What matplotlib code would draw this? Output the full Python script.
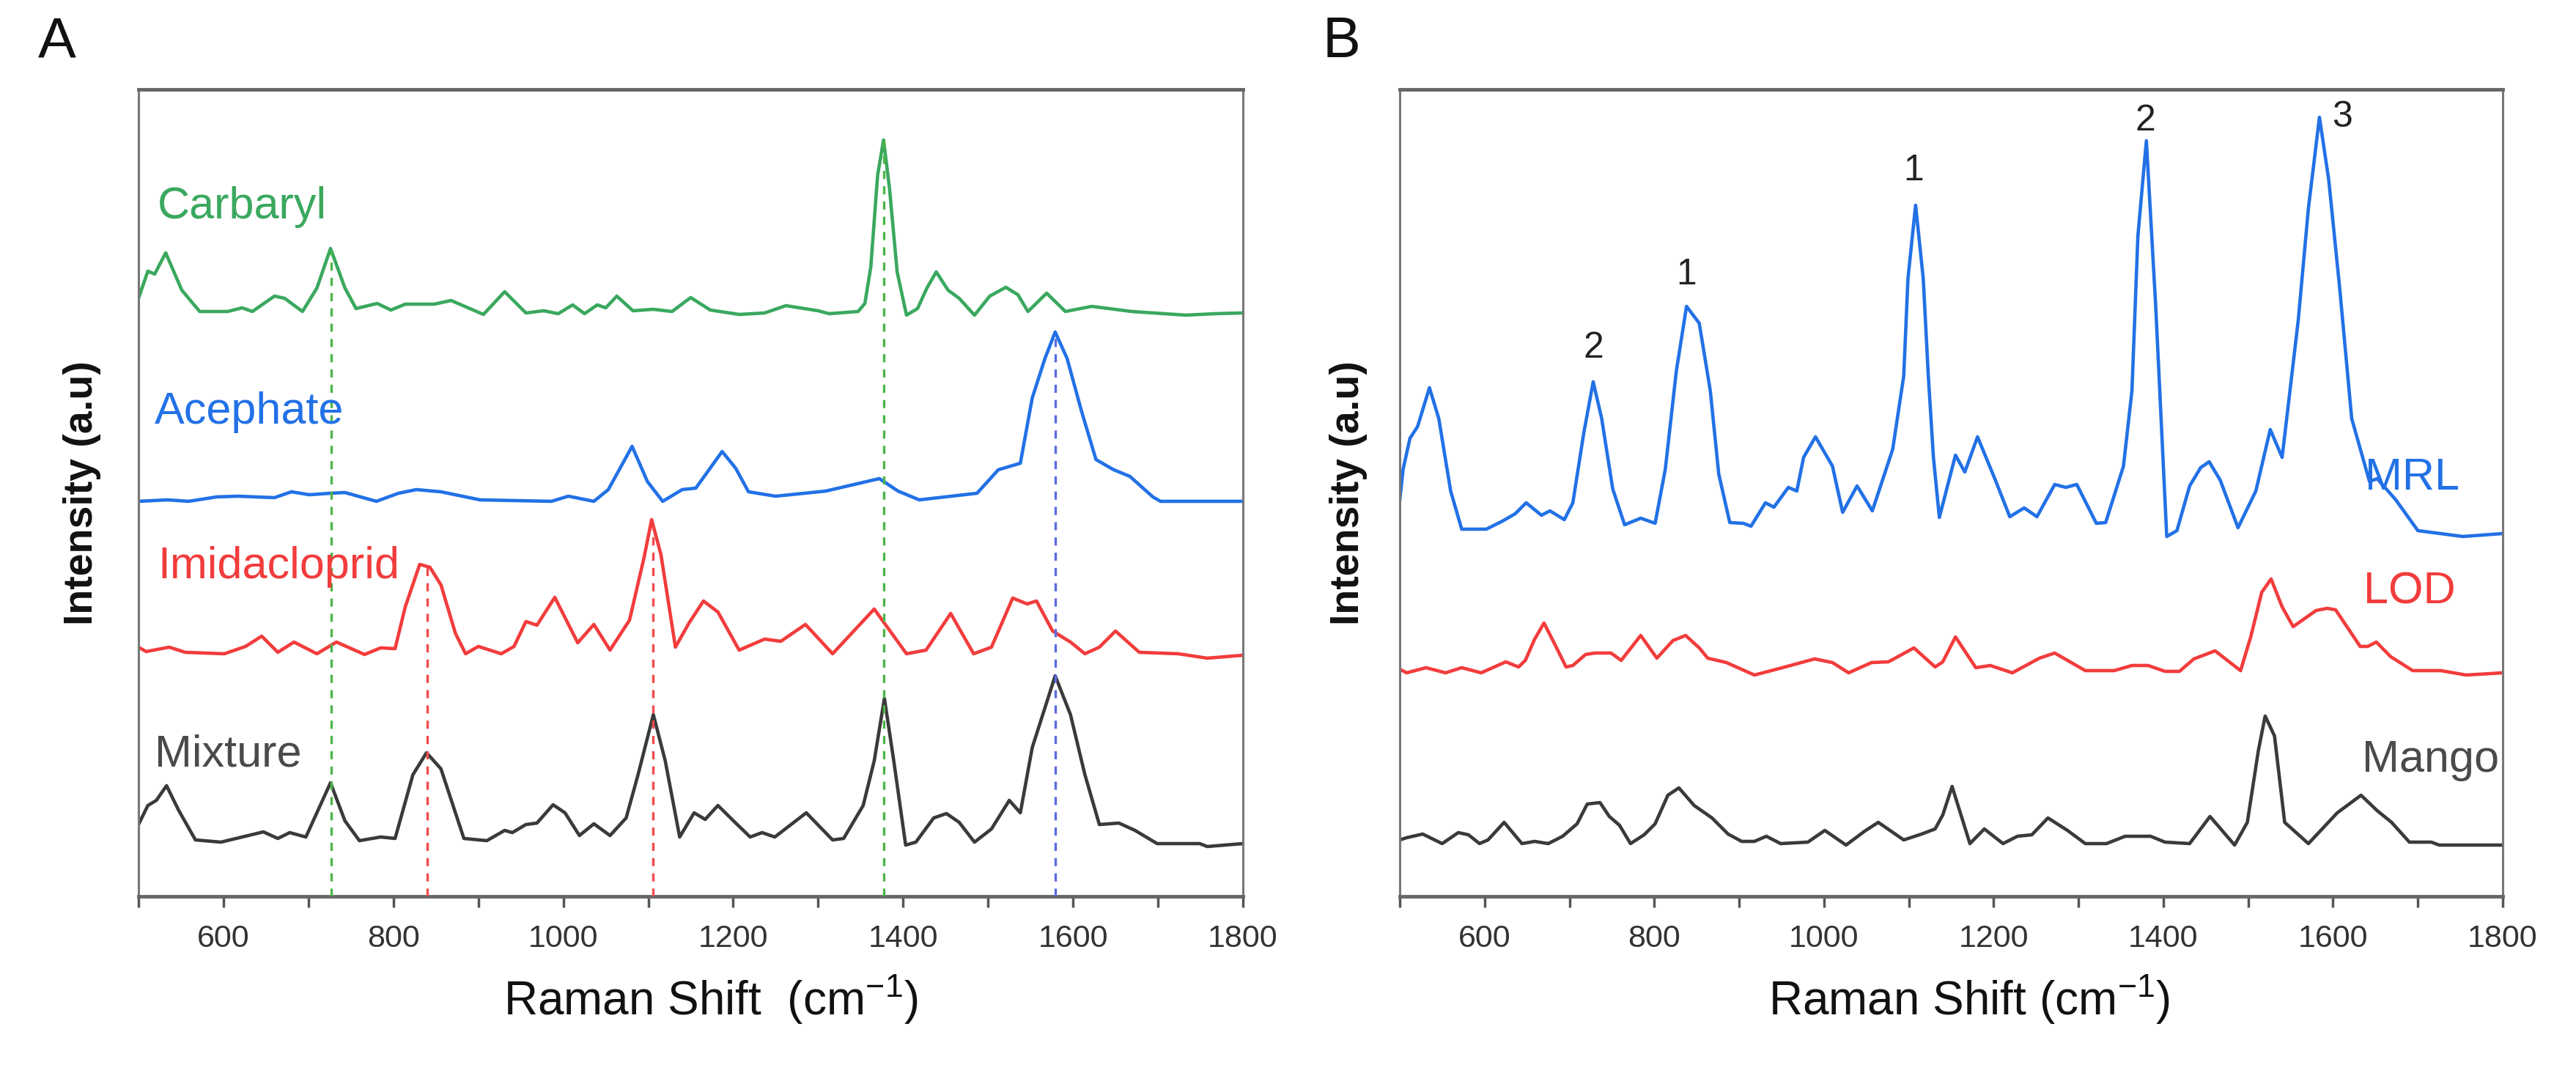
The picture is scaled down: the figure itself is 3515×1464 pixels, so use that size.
import numpy as np
import matplotlib
matplotlib.use('Agg')
import matplotlib.pyplot as plt
from matplotlib.ticker import FixedLocator

plt.rcParams['font.family'] = ['Liberation Sans', 'DejaVu Sans']
plt.rcParams['mathtext.fontset'] = 'custom'
plt.rcParams['mathtext.rm'] = 'Liberation Sans'
plt.rcParams['mathtext.it'] = 'Liberation Sans:italic'
plt.rcParams['lines.scale_dashes'] = False

# ---- panel A spectra (Raman shift in cm-1, intensity in arbitrary units, offset stacked)
carbaryl_x = [500, 511, 519, 532, 551, 572, 605, 622, 634, 660, 672, 693, 710, 726, 743, 756, 781, 797, 814, 848,
              868, 906, 931, 956, 977, 994, 1011, 1025, 1040, 1050, 1063, 1082, 1106, 1128, 1150, 1173, 1207, 1237,
              1262, 1300, 1313, 1347, 1355, 1362, 1370, 1377, 1384, 1393, 1404, 1417, 1428, 1439, 1453, 1466, 1484,
              1502, 1521, 1535, 1547, 1569, 1591, 1622, 1669, 1733, 1767, 1800]
carbaryl_y = [816, 853, 849, 878, 827, 798, 798, 803, 798, 819, 816, 798, 830, 884, 830, 802, 809, 800, 808, 808,
              813, 794, 825, 796, 799, 795, 807, 795, 807, 803, 819, 799, 801, 798, 817, 800, 794, 796,
              806, 799, 795, 798, 809, 859, 984, 1032, 966, 852, 793, 802, 830, 852, 827, 816, 793,
              819, 831, 821, 798, 823, 798, 805, 798, 793, 795, 796]

acephate_x = [500, 534, 559, 592, 617, 660, 680, 701, 726, 743, 780, 806, 827, 856, 902, 986, 1006, 1036, 1053,
              1081, 1099, 1117, 1140, 1156, 1187, 1203, 1218, 1250, 1309, 1372, 1394, 1419, 1487, 1512, 1538,
              1552, 1567, 1579, 1593, 1610, 1627, 1648, 1667, 1694, 1703, 1800]
acephate_y = [539, 541, 539, 545, 546, 544, 552, 548, 550, 551, 539, 550, 555, 552, 541, 539, 546, 539, 555,
              614, 566, 539, 555, 557, 607, 584, 552, 546, 553, 570, 553, 541, 550, 582, 591,
              680, 734, 770, 734, 662, 596, 582, 573, 545, 539, 539]

imid_x = [500, 509, 536, 555, 601, 626, 645, 664, 683, 710, 733, 766, 785, 802, 814, 831, 843, 856, 873, 885,
          900, 927, 942, 956, 969, 990, 1017, 1036, 1055, 1078, 1095, 1104, 1115, 1132, 1148, 1165, 1182, 1207,
          1237, 1256, 1285, 1317, 1366, 1404, 1427, 1456, 1483, 1504, 1529, 1546, 1557, 1576, 1597, 1614, 1631,
          1650, 1678, 1724, 1758, 1800]
imid_y = [340, 334, 340, 333, 331, 341, 355, 333, 347, 331, 347, 330, 339, 338, 395, 453, 449, 425, 359, 331,
          341, 331, 341, 375, 370, 408, 346, 371, 336, 377, 462, 514, 466, 340, 373, 403, 388, 336,
          351, 348, 371, 331, 392, 331, 336, 386, 331, 340, 407, 399, 403, 362, 347, 331, 340,
          362, 333, 331, 325, 329]

mix_x = [500, 511, 521, 533, 547, 567, 597, 647, 664, 678, 697, 726, 743, 760, 785, 802, 823, 839, 856, 883,
         910, 931, 940, 956, 969, 988, 1002, 1019, 1036, 1055, 1074, 1088, 1106, 1120, 1137, 1154, 1167, 1182,
         1203, 1220, 1234, 1249, 1286, 1317, 1330, 1353, 1366, 1378, 1389, 1403, 1415, 1436, 1451, 1466, 1484,
         1504, 1525, 1538, 1552, 1579, 1597, 1614, 1631, 1654, 1673, 1699, 1749, 1758, 1800]
mix_y = [98, 124, 131, 151, 118, 77, 74, 88, 79, 87, 81, 155, 103, 76, 81, 79, 166, 196, 174, 79,
         76, 90, 87, 98, 100, 125, 114, 83, 99, 83, 107, 166, 248, 185, 81, 114, 105, 124,
         100, 81, 87, 81, 114, 77, 79, 124, 185, 270, 185, 70, 74, 107, 113, 101, 74,
         92, 131, 114, 203, 301, 248, 166, 98, 100, 90, 72, 72, 68, 72]

# ---- panel B spectra
mrl_x = [500, 504, 512, 521, 535, 546, 560, 573, 602, 621, 636, 649, 667, 677, 694, 704, 717, 728, 738, 751,
         765, 784, 801, 813, 826, 838, 853, 866, 876, 889, 905, 914, 931, 941, 958, 968, 976, 990, 1010, 1022,
         1039, 1057, 1081, 1094, 1099, 1108, 1117, 1123, 1129, 1136, 1155, 1166, 1181, 1202, 1219, 1236, 1251,
         1272, 1285, 1298, 1321, 1332, 1353, 1363, 1370, 1380, 1391, 1404, 1416, 1431, 1444, 1454, 1467, 1488,
         1509, 1526, 1540, 1559, 1571, 1584, 1595, 1608, 1622, 1643, 1652, 1674, 1700, 1753, 1800]
mrl_y = [541, 583, 625, 641, 694, 652, 553, 501, 501, 512, 522, 537, 520, 526, 514, 537, 633, 702, 652, 556,
         507, 516, 509, 583, 717, 805, 782, 690, 576, 510, 509, 505, 537, 531, 558, 553, 599, 627, 587, 524,
         560, 526, 610, 710, 843, 943, 843, 710, 599, 517, 602, 579, 627, 568, 518, 530, 518,
         562, 558, 562, 509, 510, 587, 690, 901, 1031, 805, 491, 499, 560, 585, 593, 568, 503,
         553, 637, 599, 786, 939, 1063, 977, 828, 652, 566, 570, 541, 499, 491, 495]

lod_x = [500, 508, 531, 554, 573, 596, 625, 640, 648, 659, 670, 684, 696, 704, 719, 730, 749, 761, 784, 803,
         822, 837, 853, 863, 885, 918, 951, 989, 1010, 1029, 1056, 1076, 1106, 1131, 1140, 1155, 1179, 1196,
         1222, 1254, 1272, 1308, 1342, 1363, 1382, 1402, 1419, 1436, 1461, 1491, 1503, 1516, 1527, 1540, 1553,
         1580, 1593, 1603, 1632, 1641, 1651, 1668, 1694, 1727, 1757, 1800]
lod_y = [310, 305, 312, 305, 312, 305, 320, 313, 322, 351, 373, 341, 313, 315, 330, 332, 332, 322, 356, 325,
         349, 356, 339, 325, 319, 302, 312, 324, 319, 305, 319, 320, 339, 313, 320, 354, 312, 315,
         305, 325, 332, 308, 308, 315, 315, 307, 307, 324, 335, 308, 354, 415, 433, 395, 368,
         390, 393, 391, 341, 341, 347, 327, 308, 308, 302, 305]

mango_x = [500, 508, 527, 550, 569, 581, 594, 604, 623, 644, 659, 675, 692, 709, 721, 736, 747, 759, 772, 788,
           801, 816, 829, 847, 868, 887, 903, 918, 932, 949, 981, 1001, 1026, 1048, 1064, 1094, 1115, 1131,
           1140, 1151, 1172, 1189, 1211, 1228, 1245, 1264, 1287, 1308, 1333, 1355, 1385, 1402, 1431, 1455,
           1484, 1499, 1512, 1520, 1531, 1543, 1571, 1605, 1633, 1652, 1669, 1690, 1716, 1725, 1800]
mango_y = [77, 80, 85, 72, 87, 84, 72, 77, 101, 72, 75, 72, 82, 99, 126, 128, 109, 97, 72, 84,
           99, 138, 148, 124, 107, 85, 75, 75, 82, 72, 74, 90, 70, 89, 101, 77, 85, 92,
           111, 150, 72, 92, 72, 82, 84, 107, 90, 72, 72, 82, 82, 74, 72, 109,
           70, 101, 199, 246, 219, 101, 72, 114, 138, 117, 101, 74, 74, 70, 70]

# marker lines in panel A (positions of reference peaks)
carb_marks = [727, 1377]
imid_marks = [840, 1106]
acep_marks = [1579]

# peak numbers in panel B
peak_pos = [728, 838, 1106, 1379, 1611]
peak_lab = ['2', '1', '1', '2', '3']
peak_h = [748, 848, 990, 1058, 1063]

GREEN = '#3aa85e'
BLUE = '#2271e6'
RED = '#f23c3c'
DARK = '#3a3a3a'

W, H = 3516, 1464
fig = plt.figure(figsize=(W / 100, H / 100), dpi=100)
axA = fig.add_axes([189 / W, (H - 1223) / H, 1507 / W, 1101 / H])
axB = fig.add_axes([1910 / W, (H - 1223) / H, 1505 / W, 1101 / H])


def style(ax):
    ax.set_xlim(500, 1800)
    ax.set_ylim(0, 1101)
    ax.set_yticks([])
    ax.xaxis.set_major_locator(FixedLocator(np.arange(600, 1801, 200)))
    ax.xaxis.set_minor_locator(FixedLocator(np.arange(500, 1800, 200)))
    ax.tick_params(axis='x', which='both', direction='out', length=11, width=2.5,
                   color='#555555', labelsize=31, pad=16, labelcolor='#333333')
    for s in ['top', 'bottom']:
        ax.spines[s].set_linewidth(3.5)
        ax.spines[s].set_color('#666666')
    for s in ['left', 'right']:
        ax.spines[s].set_linewidth(2.2)
        ax.spines[s].set_color('#777777')


style(axA)
style(axB)

lw = 3.3
axA.plot(carbaryl_x, carbaryl_y, color=GREEN, lw=lw)
axA.plot(acephate_x, acephate_y, color=BLUE, lw=lw)
axA.plot(imid_x, imid_y, color=RED, lw=lw)
axA.plot(mix_x, mix_y, color=DARK, lw=lw)

# dashed guide lines from the reference peaks down to the axis
for p in carb_marks:
    axA.plot([p, p], [0, np.interp(p, carbaryl_x, carbaryl_y)], color='#4cb548', lw=2.4,
             dashes=(8, 7), zorder=3)
for p in imid_marks:
    axA.plot([p, p], [0, np.interp(p, imid_x, imid_y)], color='#f24a4a', lw=2.4,
             dashes=(8, 7), zorder=3)
for p in acep_marks:
    axA.plot([p, p], [0, np.interp(p, acephate_x, acephate_y)], color='#5a6be0', lw=2.4,
             dashes=(8, 7), zorder=3)

fs_lab = 44
axA.text(522, 925, 'Carbaryl', color=GREEN, fontsize=fs_lab, va='baseline')
axA.text(519, 645, 'Acephate', color=BLUE, fontsize=fs_lab, va='baseline')
axA.text(523, 434, 'Imidacloprid', color=RED, fontsize=fs_lab, va='baseline')
axA.text(519, 177, 'Mixture', color='#4a4a4a', fontsize=fs_lab, va='baseline')

axB.plot(mrl_x, mrl_y, color=BLUE, lw=lw)
axB.plot(lod_x, lod_y, color=RED, lw=lw)
axB.plot(mango_x, mango_y, color=DARK, lw=lw)

axB.text(1638, 555, 'MRL', color=BLUE, fontsize=fs_lab, va='baseline')
axB.text(1636, 400, 'LOD', color=RED, fontsize=fs_lab, va='baseline')
axB.text(1634, 170, 'Mango', color='#4a4a4a', fontsize=fs_lab, va='baseline')

for p, t, h in zip(peak_pos, peak_lab, peak_h):
    axB.text(p, h, t, fontsize=36, ha='center', va='center', color='#222222')

# axis titles
axA.text(0.518, -0.147, 'Raman Shift  (cm$^{-1}$)', transform=axA.transAxes,
         ha='center', va='baseline', fontsize=46, color='#111111')
axB.text(0.516, -0.147, 'Raman Shift (cm$^{-1}$)', transform=axB.transAxes,
         ha='center', va='baseline', fontsize=46, color='#111111')
axA.text(-0.051, 0.5, 'Intensity (a.u)', transform=axA.transAxes, rotation=90,
         ha='center', va='center', fontsize=40, fontweight='bold', color='#111111')
axB.text(-0.0465, 0.5, 'Intensity (a.u)', transform=axB.transAxes, rotation=90,
         ha='center', va='center', fontsize=40, fontweight='bold', color='#111111')

fig.text(52 / W, 1 - 78 / H, 'A', fontsize=56, va='baseline', color='#111111')
fig.text(1805 / W, 1 - 78 / H, 'B', fontsize=56, va='baseline', color='#111111')

fig.savefig('out.png', dpi=100)
